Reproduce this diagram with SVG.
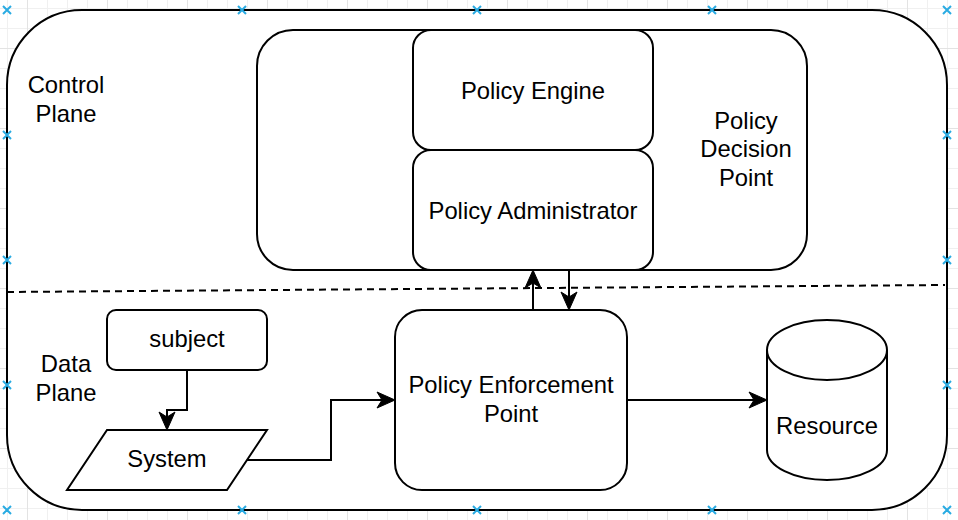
<svg xmlns="http://www.w3.org/2000/svg" width="958" height="520" viewBox="0 0 958 520">
<defs>
  <pattern id="gMinor" x="7" y="8" width="20" height="20" patternUnits="userSpaceOnUse">
    <path d="M0.5,0 V20 M0,0.5 H20" fill="none" stroke="#f0f0f0" stroke-width="1"/>
  </pattern>
  <pattern id="gMajor" x="27" y="48" width="80" height="80" patternUnits="userSpaceOnUse">
    <path d="M0.5,0 V80 M0,0.5 H80" fill="none" stroke="#e3e3e3" stroke-width="1"/>
  </pattern>
  <marker id="arr" markerUnits="userSpaceOnUse" markerWidth="22" markerHeight="22" viewBox="-2 -11 22 22" refX="5" refY="0" orient="auto">
    <path d="M18,0 L0,-8 L5,0 L0,8 Z" fill="#000" stroke="#000" stroke-width="1" stroke-linejoin="miter"/>
  </marker>
</defs>
<style>
  .shape { fill: #fff; stroke: #000; stroke-width: 2; }
  .edge { fill: none; stroke: #000; stroke-width: 2; }
  .lbl { font-family: "Liberation Sans", Arial, Helvetica, sans-serif; font-size: 23.8px; fill: #000; text-anchor: middle; }
  .pt { fill: none; stroke: #29abe2; stroke-width: 2; }
</style>
<rect x="0" y="0" width="958" height="520" fill="#fff"/>
<rect x="0" y="0" width="958" height="520" fill="url(#gMinor)"/>
<rect x="0" y="0" width="958" height="520" fill="url(#gMajor)"/>

<g id="outer">
  <rect class="shape" x="7" y="10" width="940" height="500" rx="75" ry="75"/>
</g>
<g id="control-plane-label">
  <text class="lbl" x="66" y="93">Control</text>
  <text class="lbl" x="66" y="122">Plane</text>
</g>
<g id="data-plane-label">
  <text class="lbl" x="66" y="372">Data</text>
  <text class="lbl" x="66" y="401">Plane</text>
</g>
<g id="separator">
  <line x1="7" y1="292" x2="945" y2="285" stroke="#000" stroke-width="2" stroke-dasharray="7 5"/>
</g>
<g id="pdp">
  <rect class="shape" x="257" y="30" width="550" height="240" rx="36" ry="36"/>
  <text class="lbl" x="746" y="128.5">Policy</text>
  <text class="lbl" x="746" y="157">Decision</text>
  <text class="lbl" x="746" y="185.5">Point</text>
</g>
<g id="policy-engine">
  <rect class="shape" x="413" y="30" width="240" height="120" rx="18" ry="18"/>
  <text class="lbl" x="533" y="98.5">Policy Engine</text>
</g>
<g id="policy-administrator">
  <rect class="shape" x="413" y="150" width="240" height="120" rx="18" ry="18"/>
  <text class="lbl" x="533" y="218.5">Policy Administrator</text>
</g>
<g id="subject">
  <rect class="shape" x="107" y="310" width="160" height="60" rx="9" ry="9"/>
  <text class="lbl" x="187" y="347">subject</text>
</g>
<g id="system">
  <polygon class="shape" points="107,430 267,430 227,490 67,490"/>
  <text class="lbl" x="167" y="467">System</text>
</g>
<g id="pep">
  <rect class="shape" x="395" y="310" width="232" height="180" rx="27" ry="27"/>
  <text class="lbl" x="511" y="393">Policy Enforcement</text>
  <text class="lbl" x="511" y="421.5">Point</text>
</g>
<g id="resource">
  <path class="shape" d="M767,350 A60,30 0 0 1 887,350 V450 A60,30 0 0 1 767,450 Z"/>
  <path class="edge" d="M767,350 A60,30 0 0 0 887,350"/>
  <text class="lbl" x="827" y="433.5">Resource</text>
</g>
<g id="connectors">
  <path class="edge" d="M187,370 V410 H167 V417" marker-end="url(#arr)"/>
  <path class="edge" d="M247,460 H331 V400 H382" marker-end="url(#arr)"/>
  <path class="edge" d="M533,310 V283" marker-end="url(#arr)"/>
  <path class="edge" d="M569,270 V297" marker-end="url(#arr)"/>
  <path class="edge" d="M627,400 H754" marker-end="url(#arr)"/>
</g>
<g id="connection-points">
  <path class="pt" d="M3,6 l8,8 m0,-8 l-8,8 M238,6 l8,8 m0,-8 l-8,8 M473,6 l8,8 m0,-8 l-8,8 M708,6 l8,8 m0,-8 l-8,8 M943,6 l8,8 m0,-8 l-8,8
  M3,131 l8,8 m0,-8 l-8,8 M3,256 l8,8 m0,-8 l-8,8 M3,381 l8,8 m0,-8 l-8,8 M3,506 l8,8 m0,-8 l-8,8
  M943,131 l8,8 m0,-8 l-8,8 M943,256 l8,8 m0,-8 l-8,8 M943,381 l8,8 m0,-8 l-8,8 M943,506 l8,8 m0,-8 l-8,8
  M238,506 l8,8 m0,-8 l-8,8 M473,506 l8,8 m0,-8 l-8,8 M708,506 l8,8 m0,-8 l-8,8"/>
</g>
</svg>
